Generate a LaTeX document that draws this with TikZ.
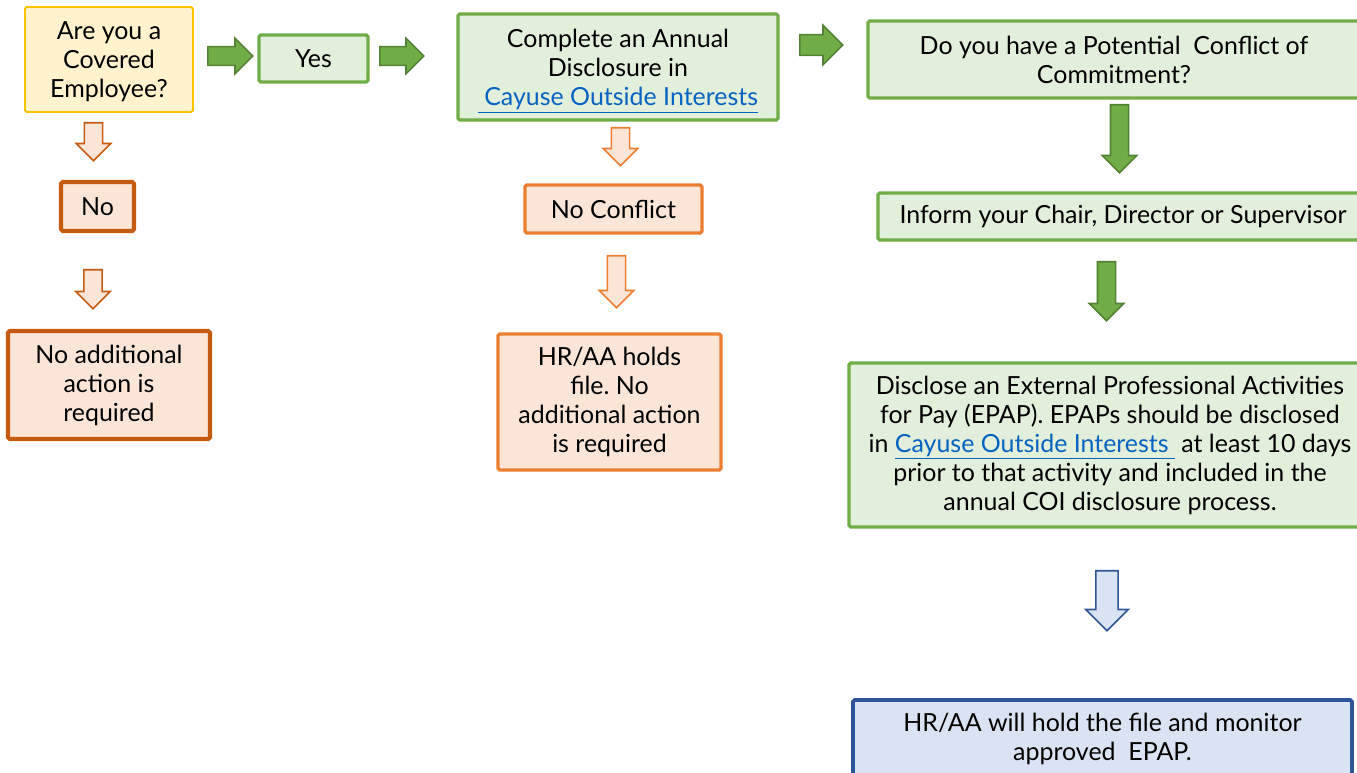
\documentclass[tikz,border=0pt]{standalone}
\usepackage{fontspec}
\setmainfont{Lato}
\frenchspacing
\usetikzlibrary{shapes.arrows}
\definecolor{yelfill}{HTML}{FFF2CC}
\definecolor{yeldraw}{HTML}{FFC000}
\definecolor{grnfill}{HTML}{E2EFDA}
\definecolor{grndraw}{HTML}{70AD47}
\definecolor{grndark}{HTML}{548235}
\definecolor{orgfill}{HTML}{FBE5D6}
\definecolor{orgdark}{HTML}{C55A11}
\definecolor{orglight}{HTML}{ED7D31}
\definecolor{blufill}{HTML}{DAE3F3}
\definecolor{bludraw}{HTML}{2F5597}
\definecolor{linkblue}{HTML}{0563C1}
\newcommand*{\Link}[1]{\textcolor{linkblue}{\underline{#1}}}
\newcommand*{\BlockArrows}[1]{% #1 = list of name/tail x/tail y/angle/length/width/draw/fill
  \foreach \n/\x/\y/\a/\l/\w/\d/\f in {#1} {
    \pgfmathsetmacro{\hx}{\w*0.005}
    \node [blockarrow, draw=\d, fill=\f, rotate=\a, anchor=tail,
      minimum height=\l*0.02cm, inner ysep=\hx cm,
      single arrow head extend=\hx cm] (\n) at (\x,\y) {};
    }%
}
\tikzset{
  box/.style={draw, align=center, inner sep=0pt, rounded corners=1pt,
    font=\fontsize{14.2}{16.5}\selectfont},
  sz/.style 2 args={minimum width=#1*0.02cm, minimum height=#2*0.02cm},
  yelbox/.style={box, fill=yelfill, draw=yeldraw, line width=1.1pt},
  grnbox/.style={box, fill=grnfill, draw=grndraw, line width=1.9pt},
  orgbox/.style={box, fill=orgfill, draw=orgdark, line width=2.3pt},
  lorgbox/.style={box, fill=orgfill, draw=orglight, line width=1.9pt},
  blubox/.style={box, fill=blufill, draw=bludraw, line width=2.2pt},
  blockarrow/.style={single arrow, inner xsep=0pt, line width=0.9pt}
}

\begin{document}
\begin{tikzpicture}[x=0.02cm, y=-0.02cm]
  \useasboundingbox (0,0) rectangle (1357,773);

  % first column
  \node [yelbox, sz={168}{105}, text depth=0pt] (covered) at (109,59.5)
    {Are you a\\Covered\\Employee?};
  \node [orgbox, sz={73}{49}] (no) at (97.5,206.5) {No};
  \node [orgbox, sz={202}{108}] (noaction) at (109,385) {No additional\\action is\\required};

  % second column
  \node [grnbox, sz={109}{47}] (yes) at (313.5,58.5) {Yes};
  \node [grnbox, sz={320}{106}, text depth=0pt] (annual) at (618,67)
    {Complete an Annual\\Disclosure in\\\Link{\ Cayuse Outside Interests}};
  \node [lorgbox, sz={177}{48}] (noconflict) at (613.5,209) {No Conflict};
  \node [lorgbox, sz={223}{136}] (hrholds) at (609.5,402)
    {HR/AA holds\\file. No\\additional action\\is required};

  % third column
  \node [grnbox, sz={492}{77}] (potential) at (1114,59.5)
    {Do you have a Potential\ \ Conflict of\\Commitment?};
  \node [grnbox, sz={490}{47}] (inform) at (1123,216.5)
    {Inform your Chair, Director or Supervisor};
  \node [grnbox, sz={522}{164}] (disclose) at (1110,445)
    {Disclose an External Professional Activities\\for Pay (EPAP). EPAPs should be disclosed\\
     in \Link{Cayuse Outside Interests\ } at least 10 days\\prior to that activity and included in the\\
     annual COI disclosure process.};
  \node [blubox, sz={499}{77}] (monitor) at (1102.5,738.5)
    {HR/AA will hold the file and monitor\\approved\ \ EPAP.};

  % block arrows
  \BlockArrows{r1/207/56/0/45/34/grndark/grndraw,
    r2/379/56/0/44/34/grndark/grndraw,
    r3/799/45/0/43/38/grndark/grndraw}
  \BlockArrows{d1/1119.5/104/-90/68/33/grndark/grndraw,
    d2/1106.5/261/-90/59/33/grndark/grndraw}
  \BlockArrows{o1/93.5/122/-90/38/33/orgdark/orgfill,
    o2/93/269/-90/39/33/orgdark/orgfill,
    o3/620.5/127/-90/38/33/orglight/orgfill,
    o4/616.5/255/-90/52/33/orglight/orgfill}
  \BlockArrows{b1/1107/570/-90/60/41/bludraw/blufill}
\end{tikzpicture}
\end{document}
